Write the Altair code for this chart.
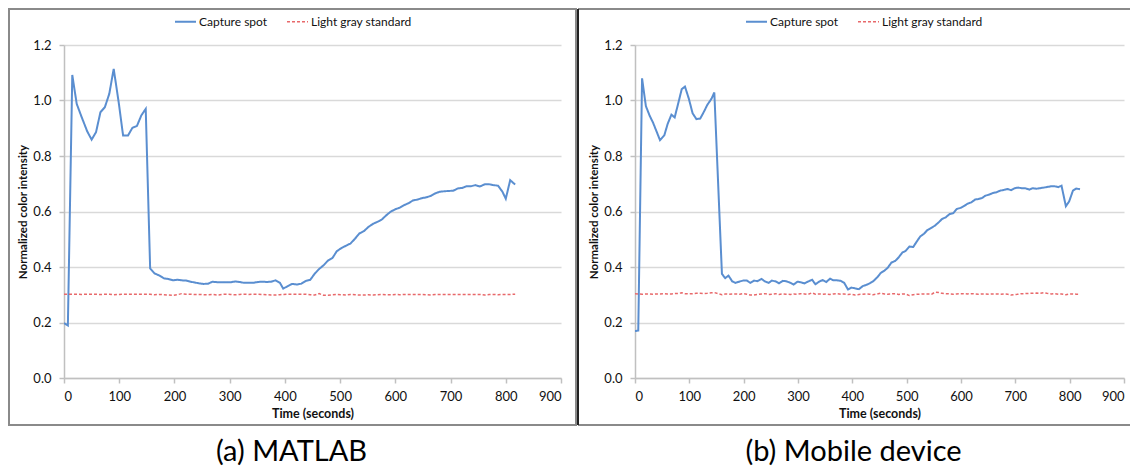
import altair as alt
import pandas as pd

SERIES = ["Capture spot", "Light gray standard"]
BLUE = "#5A8ED0"
RED = "#E8696B"

# (a) MATLAB
t_a = [0, 7, 15, 23, 32, 42, 50, 58, 66, 74,
       82, 90, 99, 107, 116, 124, 132, 140, 148, 156,
       164, 173, 181, 189, 197, 205, 213, 221, 229, 237,
       245, 253, 261, 269, 278, 286, 294, 302, 310, 318,
       326, 334, 342, 351, 359, 367, 375, 383, 391, 397,
       405, 413, 422, 430, 438, 446, 454, 462, 470, 478,
       486, 494, 503, 511, 519, 527, 535, 543, 551, 560,
       568, 576, 584, 592, 600, 608, 616, 624, 632, 640,
       648, 656, 664, 672, 680, 689, 697, 705, 713, 721,
       729, 737, 745, 753, 762, 770, 778, 786, 794, 800,
       808, 817]
capture_a = [0.198, 0.189, 1.092, 0.988, 0.94, 0.889, 0.859, 0.886, 0.958, 0.976,
             1.024, 1.114, 0.994, 0.874, 0.874, 0.902, 0.908, 0.946, 0.970, 0.395,
             0.377, 0.369, 0.359, 0.357, 0.352, 0.354, 0.352, 0.351, 0.347, 0.344,
             0.341, 0.339, 0.340, 0.347, 0.345, 0.345, 0.345, 0.345, 0.348, 0.346,
             0.343, 0.343, 0.343, 0.346, 0.347, 0.346, 0.347, 0.352, 0.343, 0.322,
             0.331, 0.339, 0.337, 0.340, 0.350, 0.354, 0.376, 0.393, 0.406, 0.423,
             0.432, 0.457, 0.469, 0.477, 0.485, 0.502, 0.521, 0.529, 0.544, 0.556,
             0.563, 0.572, 0.587, 0.600, 0.608, 0.614, 0.623, 0.630, 0.640, 0.643,
             0.648, 0.651, 0.656, 0.665, 0.671, 0.673, 0.674, 0.675, 0.683, 0.685,
             0.691, 0.691, 0.695, 0.690, 0.698, 0.698, 0.695, 0.693, 0.671, 0.646,
             0.713, 0.697]
gray_a = [0.302, 0.302, 0.302, 0.302, 0.301, 0.302, 0.302, 0.302, 0.301, 0.302,
          0.302, 0.300, 0.301, 0.302, 0.302, 0.302, 0.302, 0.302, 0.302, 0.302,
          0.300, 0.301, 0.300, 0.299, 0.298, 0.300, 0.304, 0.302, 0.302, 0.301,
          0.301, 0.300, 0.300, 0.301, 0.299, 0.301, 0.302, 0.301, 0.300, 0.301,
          0.302, 0.301, 0.302, 0.302, 0.301, 0.300, 0.299, 0.299, 0.300, 0.301,
          0.302, 0.302, 0.302, 0.302, 0.302, 0.300, 0.299, 0.304, 0.298, 0.298,
          0.300, 0.301, 0.300, 0.299, 0.301, 0.300, 0.299, 0.299, 0.300, 0.299,
          0.300, 0.301, 0.300, 0.300, 0.301, 0.300, 0.301, 0.301, 0.301, 0.301,
          0.301, 0.300, 0.299, 0.301, 0.301, 0.301, 0.301, 0.301, 0.301, 0.301,
          0.301, 0.301, 0.301, 0.301, 0.299, 0.301, 0.301, 0.300, 0.301, 0.301,
          0.301, 0.302]

# (b) Mobile device
t_b = [0, 6, 13, 20, 27, 33, 40, 46, 54, 60,
       67, 73, 80, 86, 92, 99, 106, 113, 120, 127,
       133, 141, 146, 160, 166, 172, 179, 185, 193, 199,
       206, 212, 219, 225, 233, 239, 246, 252, 259, 265,
       272, 278, 286, 292, 299, 305, 312, 318, 326, 332,
       339, 345, 352, 359, 365, 372, 379, 385, 392, 398,
       405, 412, 419, 425, 432, 438, 446, 452, 459, 465,
       472, 479, 485, 492, 498, 505, 512, 519, 525, 532,
       538, 546, 552, 559, 565, 572, 579, 586, 592, 599,
       605, 612, 619, 626, 632, 639, 645, 652, 659, 665,
       672, 679, 686, 692, 699, 705, 712, 718, 726, 732,
       739, 745, 752, 758, 766, 772, 779, 785, 793, 799,
       806, 812, 819]
capture_b = [0.169, 0.171, 1.080, 0.980, 0.945, 0.921, 0.887, 0.857, 0.875, 0.915,
             0.949, 0.939, 0.993, 1.041, 1.050, 1.007, 0.954, 0.933, 0.935, 0.960,
             0.984, 1.007, 1.029, 0.375, 0.360, 0.369, 0.348, 0.343, 0.348, 0.351,
             0.351, 0.343, 0.351, 0.349, 0.357, 0.348, 0.343, 0.351, 0.348, 0.341,
             0.350, 0.349, 0.343, 0.337, 0.347, 0.345, 0.341, 0.347, 0.354, 0.338,
             0.347, 0.353, 0.346, 0.358, 0.352, 0.352, 0.350, 0.343, 0.319, 0.326,
             0.323, 0.320, 0.331, 0.335, 0.341, 0.348, 0.363, 0.378, 0.387, 0.397,
             0.416, 0.422, 0.434, 0.452, 0.458, 0.474, 0.472, 0.493, 0.510, 0.520,
             0.533, 0.542, 0.549, 0.561, 0.573, 0.579, 0.591, 0.594, 0.609, 0.613,
             0.619, 0.628, 0.633, 0.643, 0.645, 0.649, 0.657, 0.661, 0.667, 0.669,
             0.675, 0.678, 0.681, 0.677, 0.684, 0.686, 0.684, 0.684, 0.679, 0.684,
             0.682, 0.684, 0.686, 0.688, 0.691, 0.691, 0.688, 0.693, 0.619, 0.636,
             0.675, 0.683, 0.680]
gray_b = [0.304, 0.303, 0.302, 0.303, 0.303, 0.302, 0.303, 0.303, 0.304, 0.303,
          0.303, 0.304, 0.305, 0.307, 0.304, 0.303, 0.304, 0.305, 0.305, 0.304,
          0.305, 0.307, 0.308, 0.300, 0.303, 0.302, 0.303, 0.303, 0.302, 0.304,
          0.302, 0.299, 0.299, 0.301, 0.303, 0.304, 0.301, 0.302, 0.304, 0.301,
          0.303, 0.302, 0.301, 0.303, 0.302, 0.304, 0.303, 0.301, 0.307, 0.302,
          0.303, 0.302, 0.303, 0.301, 0.303, 0.304, 0.302, 0.303, 0.301, 0.302,
          0.299, 0.301, 0.302, 0.303, 0.302, 0.300, 0.303, 0.306, 0.303, 0.302,
          0.303, 0.304, 0.301, 0.303, 0.303, 0.297, 0.300, 0.302, 0.302, 0.303,
          0.303, 0.302, 0.309, 0.308, 0.305, 0.304, 0.303, 0.302, 0.303, 0.304,
          0.304, 0.303, 0.304, 0.303, 0.302, 0.303, 0.303, 0.302, 0.303, 0.303,
          0.302, 0.303, 0.302, 0.299, 0.301, 0.302, 0.304, 0.304, 0.305, 0.305,
          0.306, 0.305, 0.307, 0.305, 0.303, 0.304, 0.302, 0.303, 0.300, 0.302,
          0.303, 0.302, 0.302]

x_ticks = [0, 100, 200, 300, 400, 500, 600, 700, 800, 900]
y_ticks = [0.0, 0.2, 0.4, 0.6, 0.8, 1.0, 1.2]

H = 333
FONT = "Lato"
FRAME = "#8a8a8a"


def make_legend():
    return alt.Legend(title=None, orient="none", legendX=110, legendY=-35,
                      direction="horizontal", symbolType="stroke", symbolSize=441,
                      symbolStrokeWidth=1.6, labelFont=FONT, labelFontSize=12,
                      labelColor="#111111", columnPadding=16, labelOffset=2)


def panel(t, cap, gray, caption, w, left_off, right_off, first, dx):
    df = pd.DataFrame({
        "t": list(t) + list(t),
        "v": list(cap) + list(gray),
        "series": [SERIES[0]] * len(t) + [SERIES[1]] * len(t),
    })
    lines = alt.Chart(df).mark_line(clip=True).encode(
        x=alt.X("t:Q", scale=alt.Scale(domain=[0, 900], nice=False),
                axis=alt.Axis(values=x_ticks, title="Time (seconds)", grid=False,
                              format="d", labelFont=FONT, labelFontSize=13,
                              labelColor="#111111", labelPadding=7,
                              titleFont=FONT, titleFontSize=12.5, titleFontWeight="bold",
                              titleColor="#111111", titlePadding=4,
                              domainColor="#c0c0c0", domainWidth=1.5,
                              tickColor="#c0c0c0", tickWidth=1.5, tickSize=5)),
        y=alt.Y("v:Q", scale=alt.Scale(domain=[0, 1.2], nice=False),
                axis=alt.Axis(values=y_ticks, format=".1f", title="Normalized color intensity",
                              grid=True, gridColor="#d9d9d9", gridWidth=1.5,
                              labelFont=FONT, labelFontSize=13, labelColor="#111111",
                              labelPadding=8, titleFont=FONT, titleFontSize=11.5,
                              titleFontWeight="bold", titleColor="#111111", titlePadding=4,
                              domainColor="#c0c0c0", domainWidth=1.5,
                              tickColor="#c0c0c0", tickWidth=1.5, tickSize=5)),
        color=alt.Color("series:N", scale=alt.Scale(domain=SERIES, range=[BLUE, RED]),
                        legend=make_legend()),
        strokeDash=alt.StrokeDash("series:N",
                                  scale=alt.Scale(domain=SERIES, range=[[1, 0], [3, 2]]),
                                  legend=make_legend()),
        strokeWidth=alt.StrokeWidth("series:N",
                                    scale=alt.Scale(domain=SERIES, range=[2, 1.5]),
                                    legend=None),
    )
    one = pd.DataFrame({"d": [0]})
    if first:
        border = alt.Chart(one).mark_rect(fillOpacity=0, stroke=FRAME, strokeWidth=2).encode(
            x=alt.value(left_off), x2=alt.value(w + right_off),
            y=alt.value(-36), y2=alt.value(380))
        layers = [border, lines]
    else:
        top = alt.Chart(one).mark_rule(color=FRAME, strokeWidth=2).encode(
            x=alt.value(left_off), x2=alt.value(w + right_off), y=alt.value(-36))
        bottom = alt.Chart(one).mark_rule(color=FRAME, strokeWidth=2).encode(
            x=alt.value(left_off), x2=alt.value(w + right_off), y=alt.value(380))
        side = alt.Chart(one).mark_rule(color="#222222", strokeWidth=2).encode(
            x=alt.value(left_off), y=alt.value(-36), y2=alt.value(380))
        layers = [top, bottom, lines, side]
    return alt.layer(*layers).properties(
        width=w, height=H,
        title=alt.TitleParams(caption, orient="bottom", font=FONT, fontSize=29,
                              fontWeight="normal", color="#000000", offset=12,
                              anchor="middle", dx=dx),
    ).resolve_scale(color="independent", strokeDash="independent", strokeWidth="independent")


left = panel(t_a, capture_a, gray_a, "(a) MATLAB", 497, -55, 15, True, -21)
right = panel(t_b, capture_b, gray_b, "(b) Mobile device", 489, -57, 6, False, -26)

chart = alt.hconcat(left, right, spacing=0).resolve_scale(
    color="independent", strokeDash="independent", strokeWidth="independent"
).resolve_legend(color="independent", strokeDash="independent").properties(
    padding=0, background="white"
).configure_view(stroke=None)

chart.save("out.html", embed_options={"renderer": "svg", "actions": False})
